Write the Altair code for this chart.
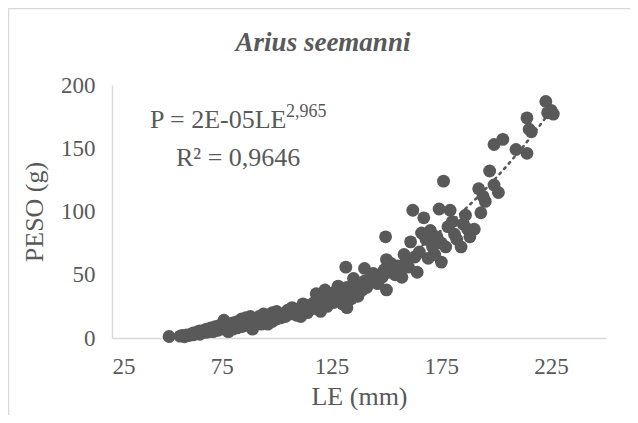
import altair as alt
import pandas as pd

# ---- data (LE in mm, P = weight in g) ----
LE = [51, 56, 57, 58, 59, 60, 61, 62, 62, 63, 64, 65, 65, 66, 67, 68, 68, 69, 70, 70,
      71, 72, 72, 73, 74, 74, 75, 76, 76, 77, 78, 78, 79, 80, 80, 81, 82, 82, 83, 84,
      84, 85, 86, 86, 87, 88, 88, 89, 89, 90, 91, 92, 92, 93, 94, 94, 95, 96, 96, 97,
      98, 98, 99, 100, 100, 101, 102, 103, 104, 105, 106, 107, 108, 109, 110, 111, 112, 112, 113, 114,
      115, 116, 117, 118, 118, 119, 120, 120, 121, 122, 122, 123, 124, 125, 126, 126, 127, 128, 128, 129,
      130, 130, 131, 131.5, 132, 132, 133, 134, 135, 135, 136, 137, 138, 139, 140, 140, 141, 142, 143, 144,
      145, 146, 147, 148, 149, 149.6, 150, 150, 151, 152, 153, 154, 155, 156, 157, 158, 159, 160, 161, 162,
      163, 164, 165, 166, 167, 168, 169, 170, 171, 172, 173, 174, 175, 175, 176, 177, 178, 179, 180, 181,
      182, 184, 185, 186, 187, 188, 190, 192, 193, 194, 195, 197, 199, 199, 201, 203, 209, 214, 214, 215,
      216, 222.6, 223.4, 225, 226]
P = [1.2, 1.5, 2, 1, 2.5, 2, 3, 2.5, 4, 3.5, 5, 3, 5.5, 4, 6, 4.5, 7, 5, 6.5, 8,
     5, 7, 9, 6, 8, 10, 7, 9, 14, 8, 5, 11, 9, 7, 12, 10, 8, 13, 11, 9,
     15, 12, 10, 16, 13, 11, 17, 7, 14, 12, 15, 13, 17, 11, 16, 19, 14, 11, 18, 15,
     13, 20, 17, 15, 21, 18, 16, 19, 17, 22, 19, 24, 21, 18, 23, 17, 27, 22, 25, 20,
     26, 23, 28, 35, 24, 30, 21, 33, 27, 38, 29, 25, 34, 31, 28, 36, 33, 41, 30, 35,
     27, 38, 33, 56, 24, 40, 36, 31, 47, 38, 34, 33, 42, 38, 55, 45, 40, 44, 48, 51,
     46, 43, 50, 48, 54, 80, 38, 62, 52, 59, 55, 50, 57, 53, 48, 66, 60, 56, 76, 101,
     64, 52, 68, 83, 95, 78, 63, 85, 72, 66, 80, 102, 60, 75, 124, 72, 88, 101, 92, 82,
     78, 72, 90, 97, 86, 80, 86, 118, 99, 112, 108, 132, 121, 153, 115, 157, 149, 146, 174, 165,
     163, 187, 178, 180, 177]

X_TICKS = [25, 75, 125, 175, 225]
Y_TICKS = [0, 50, 100, 150, 200]

TITLE = "Arius seemanni"
EQ1 = "P = 2E-05LE"
EQ_EXP = "2,965"
EQ2 = "R² = 0,9646"

df = pd.DataFrame({"LE": LE, "P": P})

GRAY = "#595959"
LINE = "#d9d9d9"
FONT = "Liberation Serif"
W, H = 494, 253

x = alt.X("LE:Q",
          scale=alt.Scale(domain=[25, 250], nice=False, zero=False),
          axis=alt.Axis(values=X_TICKS, title="LE (mm)", grid=False, ticks=False,
                        domainColor=LINE, domainWidth=1.5,
                        labelFont=FONT, labelFontSize=23, labelColor=GRAY, labelPadding=17,
                        titleFont=FONT, titleFontSize=26, titleColor=GRAY,
                        titleFontWeight="normal", titlePadding=5))
y = alt.Y("P:Q",
          scale=alt.Scale(domain=[0, 200], nice=False),
          axis=alt.Axis(values=Y_TICKS, title="PESO (g)", grid=False, ticks=False,
                        domainColor=LINE, domainWidth=1.5,
                        labelFont=FONT, labelFontSize=23, labelColor=GRAY, labelPadding=17,
                        titleFont=FONT, titleFontSize=26, titleColor=GRAY,
                        titleFontWeight="normal", titlePadding=13))

base = alt.Chart(df)

points = base.mark_circle(size=165, color=GRAY, opacity=1).encode(x=x, y=y)

trend = base.transform_regression("LE", "P", method="pow").mark_line(
    color=GRAY, strokeDash=[2, 5], strokeWidth=2.5, strokeCap="round"
).encode(x="LE:Q", y="P:Q")

border = alt.Chart(pd.DataFrame({"k": [0]})).mark_rect(
    fillOpacity=0, stroke=LINE, strokeWidth=1.5
).encode(x=alt.value(-103.5), x2=alt.value(W + 40), y=alt.value(-76.5), y2=alt.value(H + 100))


def label(text, px, py, size, align="left", style="normal", weight="normal"):
    return alt.Chart(pd.DataFrame({"t": [text]})).mark_text(
        align=align, baseline="middle", font=FONT, fontSize=size, color=GRAY,
        fontStyle=style, fontWeight=weight
    ).encode(x=alt.value(px), y=alt.value(py), text="t:N")


title = label(TITLE, 211, -42, 27, align="center", style="italic", weight="bold")
eq1 = label(EQ1, 38, 35, 26)
eq_exp = label(EQ_EXP, 174, 27, 18)
eq2 = label(EQ2, 64, 73, 26)

chart = alt.layer(border, trend, points, title, eq1, eq_exp, eq2).properties(
    width=W, height=H,
    autosize=alt.AutoSizeParams(type="none"),
    padding={"left": 104, "top": 77, "right": 24, "bottom": 77},
).configure_view(stroke=None)

chart.save("out.html", embed_options={"renderer": "svg", "actions": False})
